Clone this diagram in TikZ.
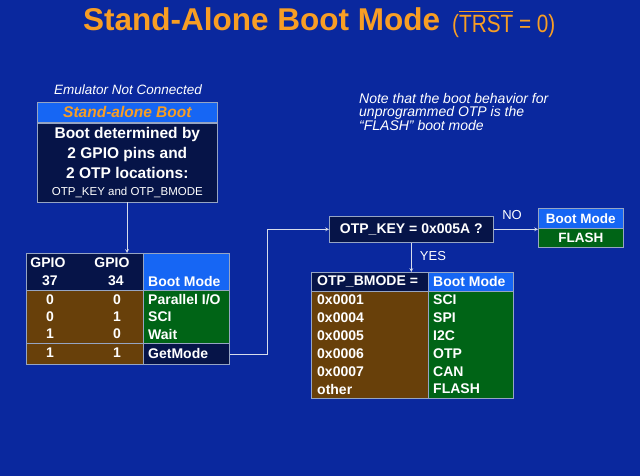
\documentclass[tikz,border=0pt]{standalone}
\usepackage{fontspec}
\setmainfont{Liberation Sans}
\usepackage{graphicx}
\usetikzlibrary{positioning}
\definecolor{slideblue}{RGB}{10,40,158}
\definecolor{navybox}{RGB}{6,20,72}
\definecolor{headblue}{RGB}{22,102,244}
\definecolor{rowbrown}{RGB}{104,64,10}
\definecolor{rowgreen}{RGB}{0,100,22}
\definecolor{titleorange}{RGB}{248,158,36}
\definecolor{rulegray}{RGB}{150,165,195}
\definecolor{arrowgray}{RGB}{215,220,235}

\newcommand{\barred}[1]{\setbox0\hbox{#1}\rlap{\rule[21pt]{\wd0}{1.2pt}}\box0{}}

\begin{document}
\begin{tikzpicture}[x=1pt,y=-1pt,
  cell/.style={draw=rulegray,line width=0.7pt,inner sep=0pt,anchor=north west},
  boldtxt/.style={font=\fontsize{14}{16}\selectfont\bfseries,text=white,inner sep=0pt},
  plaintxt/.style={font=\fontsize{13}{15}\selectfont,text=white,inner sep=0pt},
  flow/.style={draw=arrowgray,line width=0.7pt,->,>=stealth}]
  \useasboundingbox (0,0) rectangle (640,476);
  \fill[slideblue] (0,0) rectangle (640,476);

  % title
  \node[anchor=base west,inner sep=0pt,text=titleorange,font=\fontsize{31.5}{34}\selectfont\bfseries] (title) at (83,31) {Stand-Alone Boot Mode};
  \node[anchor=base west,inner sep=0pt,text=titleorange,font=\fontsize{25}{28}\selectfont] (trst) at (452,33)
    {\scalebox{0.83}[1]{(\barred{TRST} = 0)}};

  % stand-alone box
  \node[font=\fontsize{13.5}{16}\selectfont\itshape,text=white] (emu) at (128,90) {Emulator Not Connected};
  \node[cell,fill=headblue,minimum width=180,minimum height=20,text=titleorange,
        font=\fontsize{15.5}{17}\selectfont\bfseries\itshape] (sahead) at (37,102) {Stand-alone Boot};
  \node[cell,fill=navybox,minimum width=180,minimum height=79,text=white,align=center,
        font=\fontsize{15.5}{20}\selectfont\bfseries] (sabody) at (sahead.south west)
    {Boot determined by\\2 GPIO pins and\\2 OTP locations:\\[-3pt]{\fontsize{11.5}{14}\selectfont\mdseries OTP\_KEY and OTP\_BMODE}};

  % note
  \node[anchor=west,align=left,text=white,inner sep=0pt,
        font=\fontsize{14}{13.5}\selectfont\itshape] (note) at (359,112)
    {Note that the boot behavior for\\unprogrammed OTP is the\\“FLASH” boot mode};

  % GPIO table
  \node[cell,fill=navybox,minimum width=117,minimum height=37] (gpiohdr) at (26,253) {};
  \node[cell,fill=headblue,minimum width=86,minimum height=37] (modehdr) at (143,253) {};
  \node[cell,fill=rowbrown,minimum width=117,minimum height=53] (gpiorows) at (26,290) {};
  \node[cell,fill=rowgreen,minimum width=86,minimum height=53] (moderows) at (143,290) {};
  \node[cell,fill=rowbrown,minimum width=117,minimum height=21] (getpins) at (26,343) {};
  \node[cell,fill=navybox,minimum width=86,minimum height=21] (getmode) at (143,343) {};
  \node[boldtxt] (gpioa) at (48,263) {GPIO};
  \node[boldtxt] (gpiob) at (112,263) {GPIO};
  \node[boldtxt] (pina) at (50,281) {37};
  \node[boldtxt] (pinb) at (116,281) {34};
  \node[boldtxt,anchor=west] (modetitle) at (148,281) {Boot Mode};
  \foreach \y/\a/\b/\m [count=\i] in {300/0/0/{Parallel I/O},317/0/1/SCI,334/1/0/Wait,353/1/1/GetMode}{
    \node[boldtxt] (va\i) at (50,\y) {\a};
    \node[boldtxt] (vb\i) at (117,\y) {\b};
    \node[boldtxt,anchor=west] (vm\i) at (148,\y) {\m};
  }

  % OTP_KEY test
  \node[cell,fill=navybox,minimum width=164,minimum height=26,boldtxt] (otpkey) at (329,216) {OTP\_KEY = 0x005A ?};
  \node[cell,fill=headblue,minimum width=85,minimum height=20,boldtxt,font=\fontsize{13.5}{16}\selectfont\bfseries] (nohdr) at (538,208) {Boot Mode};
  \node[cell,fill=rowgreen,minimum width=85,minimum height=19,boldtxt,font=\fontsize{13.5}{16}\selectfont\bfseries] (noflash) at (538,228) {FLASH};
  \node[plaintxt] (nolabel) at (512,215) {NO};
  \node[plaintxt] (yeslabel) at (433,256) {YES};

  % OTP_BMODE table
  \node[cell,fill=navybox,minimum width=117,minimum height=19] (bmodehdr) at (311,272) {};
  \node[cell,fill=headblue,minimum width=85,minimum height=19] (bmodemode) at (428,272) {};
  \node[cell,fill=rowbrown,minimum width=117,minimum height=107] (bmoderows) at (311,291) {};
  \node[cell,fill=rowgreen,minimum width=85,minimum height=107] (bmodelist) at (428,291) {};
  \node[boldtxt,anchor=west] (bmodetitle) at (317,281.5) {OTP\_BMODE =};
  \node[boldtxt,anchor=west] (bmodemodetitle) at (433,281.5) {Boot Mode};
  \foreach \v/\m [count=\i] in {0x0001/SCI,0x0004/SPI,0x0005/I2C,0x0006/OTP,0x0007/CAN,other/FLASH}{
    \node[boldtxt,anchor=west] (bv\i) at (317,{300+17.8*(\i-1)}) {\v};
    \node[boldtxt,anchor=west] (bm\i) at (433,{300+17.8*(\i-1)}) {\m};
  }

  % connectors
  \draw[flow] (sabody.south -| 127,0) -- (gpiohdr.north -| 127,0);
  \draw[flow] (getmode.east) -- ++(38,0) |- (otpkey.west);
  \draw[flow] (otpkey.east) -- (otpkey.east -| noflash.west);
  \draw[flow] (otpkey.south) -- (otpkey.south |- bmodehdr.north);
\end{tikzpicture}
\end{document}
